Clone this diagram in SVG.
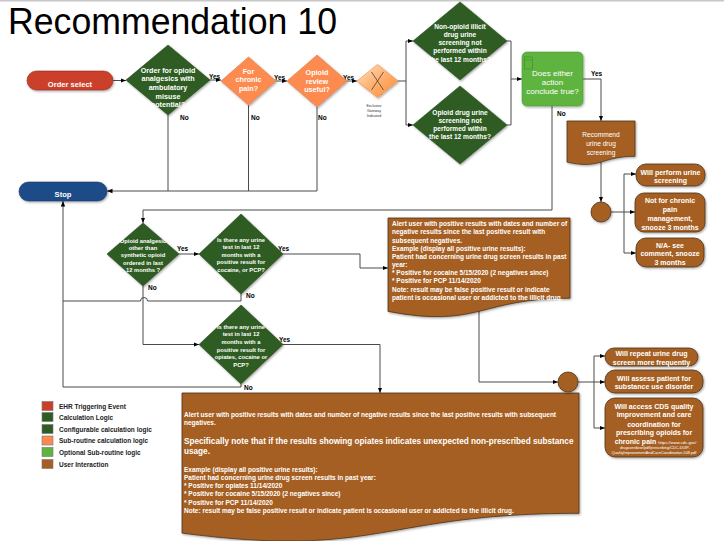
<svg xmlns="http://www.w3.org/2000/svg" width="724" height="541" viewBox="0 0 724 541">
<style>
text{font-family:"Liberation Sans",Arial,Helvetica,sans-serif}
.t{fill:#fff;font-weight:bold;text-anchor:middle}
.f72{font-size:7.2px}
.f66{font-size:6.6px}
.f58{font-size:5.8px}
.f7{font-size:7px}
.lbl{fill:#000;font-weight:bold;font-size:6.5px}
.box{fill:#fff;font-weight:bold;font-size:6.5px}
.leg{fill:#222;font-weight:bold;font-size:6.5px}
.ln{fill:none;stroke:#4a4a4a;stroke-width:1}
.arr{marker-end:url(#ah)}
.dg{fill:#2e5c22;stroke:#26491c;stroke-width:0.6}
.or{fill:#fd8a4f;stroke:#e07a40;stroke-width:0.6}
.br{fill:#a65f20;stroke:#4a3320;stroke-width:0.8}
.sh{filter:url(#ds)}
</style>
<defs>
<marker id="ah" viewBox="0 0 10 10" refX="10" refY="5" markerWidth="5.5" markerHeight="5.5" orient="auto" markerUnits="userSpaceOnUse"><path d="M0,1 L10,5 L0,9 z" fill="#000"/></marker>
<filter id="ds" x="-20%" y="-20%" width="140%" height="140%"><feDropShadow dx="1" dy="1.2" stdDeviation="0.8" flood-color="#000" flood-opacity="0.35"/></filter>
<linearGradient id="gw" x1="0" y1="0" x2="1" y2="1"><stop offset="0" stop-color="#ffe0c0"/><stop offset="0.5" stop-color="#ffb070"/><stop offset="1" stop-color="#ff8a30"/></linearGradient>
</defs>
<rect x="0" y="0" width="724" height="541" fill="#fff"/>
<line x1="0" y1="0.8" x2="724" y2="0.8" stroke="#c8c8c8" stroke-width="1.5"/>
<text x="8" y="34" font-family="'Open Sans','Liberation Sans',sans-serif" font-weight="300" font-size="36" fill="#000" textLength="329" lengthAdjust="spacingAndGlyphs">Recommendation 10</text>

<g id="connectors">
<path class="ln arr" d="M113,80.5 H126"/>
<path class="ln arr" d="M210,80 H221"/>
<path class="ln arr" d="M276,81 H287"/>
<path class="ln arr" d="M347,81 H357"/>
<path class="ln" d="M168,115 V191"/>
<path class="ln" d="M248.5,105 V191"/>
<path class="ln arr" d="M317,107 V191 H107"/>
<path class="ln" d="M398,81 H406 M406,41 V125"/>
<path class="ln arr" d="M406,41 H413"/>
<path class="ln arr" d="M406,125 H413"/>
<path class="ln" d="M507,41 H511 V125 H507"/>
<path class="ln arr" d="M511,79 H522"/>
<path class="ln arr" d="M583,79 H601 V121"/>
<path class="ln arr" d="M552,106 V210 H143 V223"/>
<path class="ln arr" d="M601,162 V202"/>
<path class="ln" d="M611,212 H624 M624,174 V253" stroke-width="1.2"/>
<path class="ln arr" d="M624,174 H636"/>
<path class="ln arr" d="M624,212 H635"/>
<path class="ln arr" d="M624,253 H636"/>
<path class="ln arr" d="M179,254 H199"/>
<path class="ln arr" d="M283,254 H360 V268 H388"/>
<path class="ln arr" d="M143,286 V344.5 H199"/>
<path class="ln arr" d="M283,344.5 H380 V393"/>
<path class="ln" d="M241,294 V301 H147.5 A3.5,3.5 0 0 0 140.5,301 H63"/>
<path class="ln arr" d="M241,384 V387 H63 V201"/>
<path class="ln arr" d="M479,311 V382 H558"/>
<path class="ln" d="M578,382 H594 M594,356 V428" stroke-width="1.2"/>
<path class="ln arr" d="M594,356 H605"/>
<path class="ln arr" d="M594,382 H605"/>
<path class="ln arr" d="M594,428 H605"/>
</g>

<g id="labels">
<text class="lbl" x="209" y="79">Yes</text>
<text class="lbl" x="274" y="79.5">Yes</text>
<text class="lbl" x="343" y="79.5">Yes</text>
<text class="lbl" x="180" y="119.5">No</text>
<text class="lbl" x="251" y="119.5">No</text>
<text class="lbl" x="318" y="119.5">No</text>
<text class="lbl" x="591" y="75.5">Yes</text>
<text class="lbl" x="557" y="116">No</text>
<text class="lbl" x="177" y="251">Yes</text>
<text class="lbl" x="278" y="251">Yes</text>
<text class="lbl" x="148" y="289.5">No</text>
<text class="lbl" x="246" y="297.5">No</text>
<text class="lbl" x="279" y="342">Yes</text>
<text class="lbl" x="244" y="389.5">No</text>
</g>

<g id="order-select">
<rect class="sh" x="27" y="71" width="86" height="19" rx="9.5" fill="#cb3f2a" stroke="#9a2e1e" stroke-width="0.6"/>
<text class="t" x="70" y="86.7" font-size="7.6">Order select</text>
</g>

<g id="d-order-opioid">
<path class="dg sh" d="M168,45 L210,80 L168,115 L126,80 Z"/>
<text class="t f72" x="168" y="72.5">Order for opioid</text>
<text class="t f72" x="168" y="81.2">analgesics with</text>
<text class="t f72" x="168" y="89.9">ambulatory</text>
<text class="t f72" x="168" y="98.6">misuse</text>
<text class="t f72" x="168" y="107.3">potential?</text>
</g>

<g id="d-chronic">
<path class="or sh" d="M248.5,57 L276,81 L248.5,105 L221,81 Z"/>
<text class="t f72" x="248.5" y="73.5">For</text>
<text class="t f72" x="248.5" y="82">chronic</text>
<text class="t f72" x="248.5" y="90.5">pain?</text>
</g>

<g id="d-review">
<path class="or sh" d="M317,55 L347,81 L317,107 L287,81 Z"/>
<text class="t f72" x="317" y="75">Opioid</text>
<text class="t f72" x="317" y="83.5">review</text>
<text class="t f72" x="317" y="92">useful?</text>
</g>

<g id="gateway">
<path class="sh" d="M377.5,64.5 L398,81 L377.5,97.5 L357,81 Z" fill="url(#gw)" stroke="#f08a40" stroke-width="0.6"/>
<path d="M371.5,72 L383.5,90 M383.5,72 L371.5,90" stroke="#333" stroke-width="0.7" fill="none"/>
<text x="374" y="107.3" font-size="3.6" fill="#333" text-anchor="middle">Exclusive</text>
<text x="374" y="112" font-size="3.6" fill="#333" text-anchor="middle">Gateway</text>
<text x="374" y="116.6" font-size="3.6" fill="#333" text-anchor="middle">Indicated</text>
</g>

<g id="d-nonopioid">
<path class="dg sh" d="M460,2 L507,41 L460,80 L413,41 Z"/>
<text class="t f66" x="460" y="28.5">Non-opioid illicit</text>
<text class="t f66" x="460" y="36.8">drug urine</text>
<text class="t f66" x="460" y="45.1">screening not</text>
<text class="t f66" x="460" y="53.4">performed within</text>
<text class="t f66" x="460" y="61.7">the last 12 months?</text>
</g>

<g id="d-opioid-drug">
<path class="dg sh" d="M460,86 L507,125 L460,164 L413,125 Z"/>
<text class="t f66" x="460" y="114.5">Opioid drug urine</text>
<text class="t f66" x="460" y="122.8">screening not</text>
<text class="t f66" x="460" y="131.1">performed within</text>
<text class="t f66" x="460" y="139.4">the last 12 months?</text>
</g>

<g id="either-action">
<rect class="sh" x="522" y="52" width="61" height="54" rx="5" fill="#5eb43f" stroke="#4e9a33" stroke-width="0.6"/>
<rect x="524.5" y="57" width="8" height="12" fill="none" stroke="#3f8a2a" stroke-width="0.6"/>
<line x1="524.5" y1="60" x2="532.5" y2="60" stroke="#3f8a2a" stroke-width="0.6"/>
<text x="552.5" y="75.5" fill="#fff" font-size="8" text-anchor="middle">Does either</text>
<text x="552.5" y="84.5" fill="#fff" font-size="8" text-anchor="middle">action</text>
<text x="552.5" y="93.5" fill="#fff" font-size="8" text-anchor="middle">conclude true?</text>
</g>

<g id="recommend">
<path class="br sh" d="M567,121 H635 V156.3 C601,156.3 601,169.7 567,162.1 Z"/>
<text x="601" y="136.5" fill="#fff" font-size="6.6" text-anchor="middle">Recommend</text>
<text x="601" y="145.8" fill="#fff" font-size="6.6" text-anchor="middle">urine drug</text>
<text x="601" y="154.6" fill="#fff" font-size="6.6" text-anchor="middle">screening</text>
</g>

<g id="choice-1">
<circle class="br sh" cx="601" cy="212" r="10"/>
</g>

<g id="perform-screening">
<rect class="br sh" x="636" y="164" width="69" height="22" rx="10"/>
<text class="t f7" x="670.5" y="174.5">Will perform urine</text>
<text class="t f7" x="670.5" y="183.2">screening</text>
</g>

<g id="not-chronic">
<rect class="br sh" x="635" y="193" width="70" height="39" rx="9"/>
<text class="t f7" x="670" y="202.5">Not for chronic</text>
<text class="t f7" x="670" y="211.5">pain</text>
<text class="t f7" x="670" y="220.5">management,</text>
<text class="t f7" x="670" y="229.5">snooze 3 months</text>
</g>

<g id="na-comment">
<rect class="br sh" x="636" y="238" width="68" height="29" rx="10"/>
<text class="t f7" x="670" y="247.5">N/A- see</text>
<text class="t f7" x="670" y="256.2">comment, snooze</text>
<text class="t f7" x="670" y="264.8">3 months</text>
</g>

<g id="stop">
<rect class="sh" x="19" y="182" width="88" height="19" rx="9.5" fill="#1f4b87" stroke="#163a6a" stroke-width="0.6"/>
<text class="t" x="63" y="197" font-size="7.6">Stop</text>
</g>

<g id="d-opioid-other">
<path class="dg sh" d="M143,223 L179,254 L143,286 L107,254 Z"/>
<text class="t f58" x="143" y="243">Opioid analgesic</text>
<text class="t f58" x="143" y="250.2">other than</text>
<text class="t f58" x="143" y="257.3">synthetic opioid</text>
<text class="t f58" x="143" y="264.5">ordered in last</text>
<text class="t f58" x="143" y="271.8">12 months ?</text>
</g>

<g id="d-cocaine-pcp">
<path class="dg sh" d="M241,214 L283,254 L241,294 L199,254 Z"/>
<text class="t f58" x="241" y="242">Is there any urine</text>
<text class="t f58" x="241" y="249.4">test in last 12</text>
<text class="t f58" x="241" y="256.8">months with a</text>
<text class="t f58" x="241" y="264.2">positive result for</text>
<text class="t f58" x="241" y="271.6">cocaine, or PCP?</text>
</g>

<g id="d-opiates-cocaine-pcp">
<path class="dg sh" d="M241,305 L283,344.5 L241,384 L199,344.5 Z"/>
<text class="t f58" x="241" y="328.7">Is there any urine</text>
<text class="t f58" x="241" y="336.3">test in last 12</text>
<text class="t f58" x="241" y="343.9">months with a</text>
<text class="t f58" x="241" y="351.5">positive result for</text>
<text class="t f58" x="241" y="359.1">opiates, cocaine or</text>
<text class="t f58" x="241" y="366.7">PCP?</text>
</g>

<g id="alert-1">
<path class="br sh" d="M388,218 H570 V298.2 C479,298.2 479,328.7 388,311.4 Z"/>
<text class="box" x="392" y="226.3">Alert user with positive results with dates and number of</text>
<text class="box" x="392" y="234.4">negative results since the last positive result with</text>
<text class="box" x="392" y="242.6">subsequent negatives.</text>
<text class="box" x="392" y="250.7">Example (display all positive urine results):</text>
<text class="box" x="392" y="258.9">Patient had concerning urine drug screen results in past</text>
<text class="box" x="392" y="267">year:</text>
<text class="box" x="392" y="275.2">* Positive for cocaine 5/15/2020 (2 negatives since)</text>
<text class="box" x="392" y="283.3">* Positive for PCP 11/14/2020</text>
<text class="box" x="392" y="291.5">Note: result may be false positive result or indicate</text>
<text class="box" x="392" y="299.6">patient is occasional user or addicted to the illicit drug.</text>
</g>

<g id="alert-2">
<path class="br sh" d="M182,393 H579 V513.3 C380.5,513.3 380.5,559 182,533.1 Z"/>
<text class="box" x="184" y="416.5" font-size="6.4">Alert user with positive results with dates and number of negative results since the last positive results with subsequent</text>
<text class="box" x="184" y="425" font-size="6.4">negatives.</text>
<text x="184" y="443.5" fill="#fff" font-weight="bold" font-size="8.2">Specifically note that if the results showing opiates indicates unexpected non-prescribed substance</text>
<text x="184" y="453.5" fill="#fff" font-weight="bold" font-size="8.2">usage.</text>
<text class="box" x="184" y="471.5" font-size="6.4">Example (display all positive urine results):</text>
<text class="box" x="184" y="479.7" font-size="6.4">Patient had concerning urine drug screen results in past year:</text>
<text class="box" x="184" y="488" font-size="6.4">* Positive for opiates 11/14/2020</text>
<text class="box" x="184" y="496.2" font-size="6.4">* Positive for cocaine 5/15/2020 (2 negatives since)</text>
<text class="box" x="184" y="504.5" font-size="6.4">* Positive for PCP 11/14/2020</text>
<text class="box" x="184" y="512.8" font-size="6.4">Note: result may be false positive result or indicate patient is occasional user or addicted to the illicit drug.</text>
</g>

<g id="choice-2">
<circle class="br sh" cx="568" cy="382" r="10"/>
</g>

<g id="repeat-screen">
<rect class="br sh" x="605" y="348" width="93" height="18" rx="9"/>
<text class="t f7" x="651.5" y="356">Will repeat urine drug</text>
<text class="t f7" x="651.5" y="364.5">screen more frequently</text>
</g>

<g id="assess-patient">
<rect class="br sh" x="605" y="370" width="98" height="23" rx="10"/>
<text class="t f7" x="654" y="381">Will assess patient for</text>
<text class="t f7" x="654" y="389.4">substance use disorder</text>
</g>

<g id="access-cds">
<rect class="br sh" x="605" y="398" width="98" height="59" rx="10"/>
<text class="t f7" x="654" y="408.5">Will access CDS quality</text>
<text class="t f7" x="654" y="417">improvement and care</text>
<text class="t f7" x="654" y="426.5">coordination for</text>
<text class="t f7" x="654" y="435">prescribing opioids for</text>
<text class="t" x="655.5" y="444"><tspan font-size="7">chronic pain </tspan><tspan font-size="4.2" font-weight="normal">https://www.cdc.gov/</tspan></text>
<text x="655" y="449" fill="#fff" font-size="3.8" text-anchor="middle">drugoverdose/pdf/prescribing/CDC-DUIP-</text>
<text x="654" y="454.3" fill="#fff" font-size="3.8" text-anchor="middle">QualityImprovementAndCareCoordination-508.pdf</text>
</g>

<g id="legend">
<rect x="42" y="401.5" width="11" height="9" fill="#cb3f2a" stroke="#777" stroke-width="0.6"/>
<rect x="42" y="412.5" width="11" height="9" fill="#2e5c22" stroke="#777" stroke-width="0.6"/>
<rect x="42" y="424.5" width="11" height="9" fill="#2e5c22" stroke="#777" stroke-width="0.6"/>
<rect x="42" y="436" width="11" height="9" fill="#fd8a4f" stroke="#777" stroke-width="0.6"/>
<rect x="42" y="447.5" width="11" height="9" fill="#5eb43f" stroke="#777" stroke-width="0.6"/>
<rect x="42" y="459.5" width="11" height="9" fill="#a65f20" stroke="#777" stroke-width="0.6"/>
<text class="leg" x="59" y="408.5">EHR Triggering Event</text>
<text class="leg" x="59" y="419.5">Calculation Logic</text>
<text class="leg" x="59" y="431.5">Configurable calculation logic</text>
<text class="leg" x="59" y="443">Sub-routine calculation logic</text>
<text class="leg" x="59" y="454.5">Optional Sub-routine logic</text>
<text class="leg" x="59" y="466.5">User Interaction</text>
</g>
</svg>
